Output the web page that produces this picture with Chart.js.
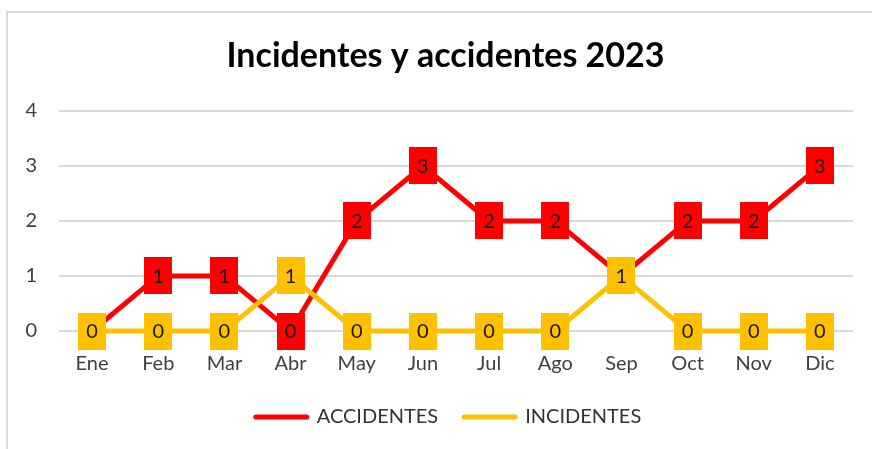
<!DOCTYPE html>
<html lang="es">
<head>
  <meta charset="UTF-8">
  <title>Incidentes y accidentes 2023</title>
  <script src="https://cdn.jsdelivr.net/npm/chart.js@4.4.0/dist/chart.umd.min.js"></script>
  <style>
    body { margin: 0; background: #fff; }
  </style>
</head>
<body>
<canvas id="grafico" width="872" height="449"></canvas>

<script>
// datos
const meses = ["Ene", "Feb", "Mar", "Abr", "May", "Jun", "Jul", "Ago", "Sep", "Oct", "Nov", "Dic"];
const accidentes = [0, 1, 1, 0, 2, 3, 2, 2, 1, 2, 2, 3];
const incidentes = [0, 0, 0, 1, 0, 0, 0, 0, 1, 0, 0, 0];
const ticksY = [0, 1, 2, 3, 4];

const ROJO = "#FF0000";
const AMARILLO = "#FFC000";
const FUENTE = "Lato, 'Open Sans', sans-serif";

// marcador rectangular (un poco más alto que ancho, como en la imagen)
function marcador(color) {
  const c = document.createElement("canvas");
  c.width = 28;
  c.height = 37;
  const g = c.getContext("2d");
  g.fillStyle = color;
  g.fillRect(0, 0, 28, 37);
  return c;
}

// fondo blanco + borde gris arriba/izquierda
const fondo = {
  id: "fondo",
  beforeDraw(chart) {
    const ctx = chart.ctx;
    ctx.save();
    ctx.fillStyle = "#fff";
    ctx.fillRect(0, 0, chart.width, chart.height);
    ctx.fillStyle = "#d9d9d9";
    ctx.fillRect(6, 11, chart.width - 6, 2);
    ctx.fillRect(6, 11, 2, chart.height - 11);
    ctx.restore();
  }
};

// el título y la leyenda del original están centrados algo más a la derecha
const centrado = {
  id: "centrado",
  afterLayout(chart) {
    if (chart.titleBlock) { chart.titleBlock.left = 38; chart.titleBlock.right = 853; }
    if (chart.legend) { chart.legend.left = 44; chart.legend.right = 853; }
  }
};

// valores dentro de cada marcador, justo después de dibujar cada serie
const etiquetas = {
  id: "etiquetas",
  afterDatasetDraw(chart, args) {
    const ctx = chart.ctx;
    const valores = chart.data.datasets[args.index].data;
    ctx.save();
    ctx.font = "20px " + FUENTE;
    ctx.fillStyle = "#1a1a1a";
    ctx.textAlign = "center";
    ctx.textBaseline = "middle";
    args.meta.data.forEach((p, i) => {
      ctx.fillText(String(valores[i]), p.x, p.y + 1);
    });
    ctx.restore();
  }
};

new Chart(document.getElementById("grafico"), {
  type: "line",
  data: {
    labels: meses,
    datasets: [
      {
        label: "ACCIDENTES",
        data: accidentes,
        borderColor: ROJO,
        backgroundColor: ROJO,
        borderWidth: 5,
        pointStyle: marcador(ROJO),
        clip: false,
        order: 1
      },
      {
        label: "INCIDENTES",
        data: incidentes,
        borderColor: AMARILLO,
        backgroundColor: AMARILLO,
        borderWidth: 5,
        pointStyle: marcador(AMARILLO),
        clip: false,
        order: 0
      }
    ]
  },
  options: {
    responsive: false,
    animation: false,
    events: [],
    layout: { padding: { left: 0, right: 19, top: 0, bottom: 12 } },
    plugins: {
      title: {
        display: true,
        text: "Incidentes y accidentes 2023",
        color: "#000",
        font: { family: FUENTE, size: 34, weight: "bold" },
        padding: { top: 36, bottom: 34 }
      },
      legend: {
        position: "bottom",
        labels: {
          usePointStyle: true,
          pointStyleWidth: 51,
          padding: 26,
          color: "#333",
          font: { family: FUENTE, size: 20 },
          generateLabels(chart) {
            return chart.data.datasets.map((ds, i) => ({
              text: ds.label,
              datasetIndex: i,
              pointStyle: "line",
              strokeStyle: ds.borderColor,
              fillStyle: ds.borderColor,
              lineWidth: 5,
              lineCap: "round",
              fontColor: "#333"
            }));
          }
        }
      },
      tooltip: { enabled: false }
    },
    scales: {
      x: {
        offset: true,
        grid: { display: false },
        border: { display: false },
        ticks: {
          color: "#404040",
          padding: 13,
          font: { family: FUENTE, size: 20 }
        },
        afterFit(scale) { scale.height = 50; }
      },
      y: {
        min: 0,
        max: 4,
        grid: { color: "#d9d9d9", lineWidth: 2, drawTicks: false },
        border: { display: false },
        ticks: {
          color: "#404040",
          padding: 22,
          font: { family: FUENTE, size: 20 }
        },
        afterBuildTicks(scale) { scale.ticks = ticksY.map(v => ({ value: v })); },
        afterFit(scale) { scale.width = 59; }
      }
    }
  },
  plugins: [fondo, centrado, etiquetas]
});
</script>
</body>
</html>
